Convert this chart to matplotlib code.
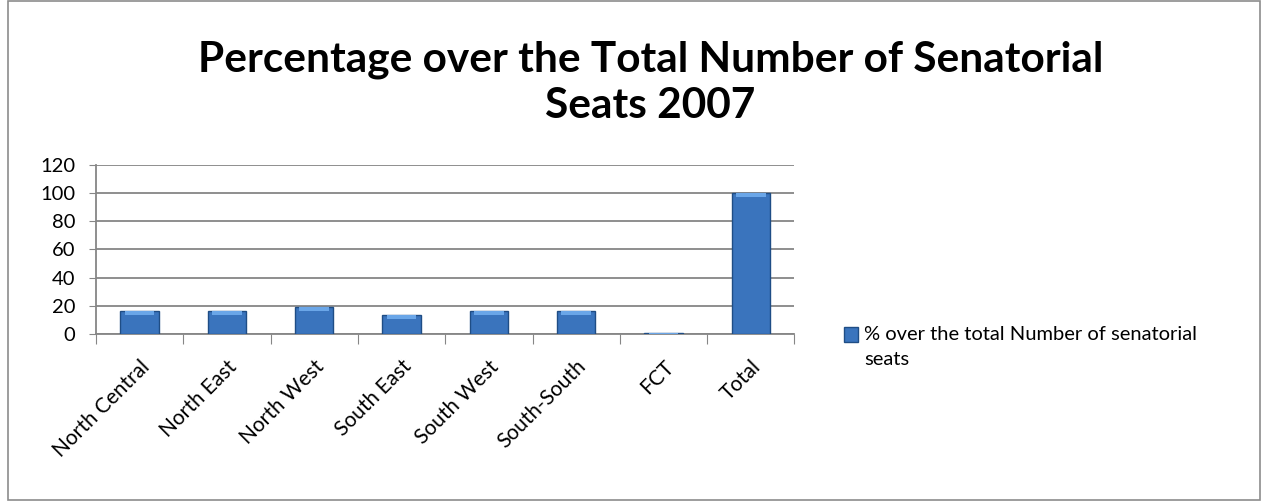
import matplotlib
matplotlib.use("Agg")
import matplotlib.pyplot as plt
from matplotlib.patches import Rectangle

# ── Data ──────────────────────────────────────────────────────────────────────
regions = ["North Central", "North East", "North West", "South East",
           "South West", "South-South", "FCT", "Total"]
pct_seats = [16.5, 16.5, 19.3, 13.8, 16.5, 16.5, 0.9, 100]
y_ticks = [0, 20, 40, 60, 80, 100, 120]

plt.rcParams["font.family"] = ["Lato", "DejaVu Sans"]

fig = plt.figure(figsize=(12.63, 5.01), dpi=100)
fig.patches.append(Rectangle((0.006, 0.002), 0.992, 0.996, transform=fig.transFigure,
                             fill=False, edgecolor="#8c8c8c", linewidth=1.2))

ax = fig.add_axes([0.076, 0.333, 0.553, 0.338])
x = list(range(len(regions)))

ax.bar(x, pct_seats, width=0.44, color="#3a74bd", edgecolor="#1f4d85",
       linewidth=1.0, zorder=3, label="% over the total Number of senatorial\nseats")
# lighter top bevel
ax.bar(x, [min(v, 3.0) for v in pct_seats], bottom=[v - min(v, 3.0) for v in pct_seats],
       width=0.34, color="#6aa6e8", linewidth=0, zorder=4)

ax.set_xlim(-0.5, len(regions) - 0.5)
ax.set_ylim(0, 120)
ax.set_yticks(y_ticks)
ax.tick_params(axis="y", labelsize=14.5, length=5, color="#868686", pad=10)
ax.yaxis.grid(True, color="#868686", linewidth=1.3, zorder=0)

ax.set_xticks([i - 0.5 for i in range(len(regions) + 1)], minor=False)
ax.set_xticklabels([])
ax.set_xticks(x, minor=True)
ax.set_xticklabels(regions, minor=True, rotation=45, ha="right",
                   rotation_mode="anchor", fontsize=15)
ax.tick_params(axis="x", which="major", length=7, color="#868686")
ax.tick_params(axis="x", which="minor", length=0, pad=16)

for side in ["top", "right"]:
    ax.spines[side].set_visible(False)
for side in ["left", "bottom"]:
    ax.spines[side].set_color("#868686")
    ax.spines[side].set_linewidth(1.3)

fig.text(0.515, 0.835, "Percentage over the Total Number of Senatorial\nSeats 2007",
         ha="center", va="center", fontsize=30.5, fontweight="bold", linespacing=1.25)

leg = fig.legend(loc="upper left", bbox_to_anchor=(0.654, 0.385), frameon=False,
                 fontsize=14.5, handlelength=0.7, handleheight=0.7, handletextpad=0.3)
for t in leg.get_texts():
    t.set_linespacing(1.55)
# align marker with first text line
h = leg.legend_handles[0]
h.set_y(h.get_y() + 9)

plt.savefig("out.png", dpi=100)
